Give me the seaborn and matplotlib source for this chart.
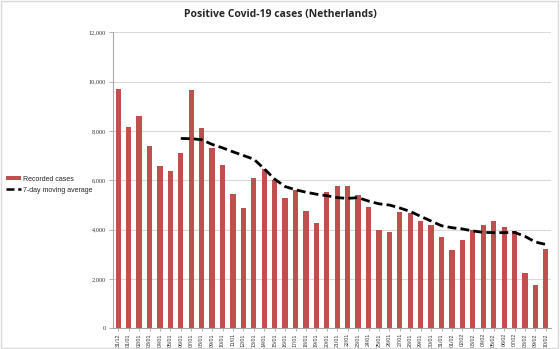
import numpy as np
import pandas as pd
import matplotlib
matplotlib.use("Agg")
import matplotlib.pyplot as plt
import seaborn as sns
from matplotlib.patches import Patch
from matplotlib.lines import Line2D

dates = ["31/12"] + [f"{d:02d}/01" for d in range(1, 32)] + [f"{d:02d}/02" for d in range(1, 11)]
cases = [9690, 8180, 8610, 7400, 6580, 6370, 7110, 9650, 8130, 7320,
         6620, 5430, 4890, 6090, 6450, 6030, 5280, 5620, 4760, 4280,
         5530, 5780, 5760, 5410, 4920, 4000, 3920, 4730, 4670, 4350,
         4180, 3720, 3190, 3570, 3970, 4200, 4340, 4090, 3930, 2240,
         1740, 3220]
moving_avg = [np.nan] * 6 + [7700, 7690, 7650, 7460, 7320, 7160, 7010, 6860,
              6470, 6050, 5750, 5620, 5520, 5440, 5380, 5300, 5270, 5300,
              5160, 5050, 5000, 4880, 4740, 4540, 4350, 4160, 4080, 4030,
              3950, 3890, 3880, 3880, 3890, 3730, 3500, 3400]
yticks = [0, 2000, 4000, 6000, 8000, 10000, 12000]

df = pd.DataFrame({"date": dates, "cases": cases, "ma": moving_avg})
df["pos"] = np.arange(len(df))

sns.set_theme(style="white")
plt.rcParams["font.family"] = ["Liberation Sans", "DejaVu Sans"]

fig = plt.figure(figsize=(5.6, 3.49), dpi=100)
ax = fig.add_axes([0.2018, 0.0593, 0.7822, 0.8477])

bar_color = "#C0504D"
sns.barplot(data=df, x="date", y="cases", color=bar_color, width=0.5,
            saturation=1, ax=ax, zorder=2, linewidth=0)
sns.lineplot(data=df, x="pos", y="ma", color="black", lw=2.0, ax=ax,
             dashes=False, zorder=3, linestyle=(0, (3.2, 1.5)))

ax.set_xlim(-0.5, len(dates) - 0.5)
ax.set_ylim(0, 12000)
ax.set_yticks(yticks)
ax.set_yticklabels([f"{v:,}" for v in yticks], fontsize=4.5, color="#333333",
                   family=["Liberation Serif", "DejaVu Serif"])
ax.set_xticks(df["pos"])
ax.set_xticklabels(dates, rotation=90, fontsize=3.8, color="#333333")
ax.set_xlabel("")
ax.set_ylabel("")
ax.yaxis.grid(True, color="#D9D9D9", lw=0.8, zorder=0)
ax.set_axisbelow(True)
for s in ["top", "right"]:
    ax.spines[s].set_visible(False)
for s in ["left", "bottom"]:
    ax.spines[s].set_color("#A6A6A6")
    ax.spines[s].set_linewidth(0.8)
ax.tick_params(axis="y", length=3, width=0.6, color="#A6A6A6", pad=2, left=True)
ax.tick_params(axis="x", length=2, width=0.6, color="#A6A6A6", pad=1.5, bottom=True)

fig.suptitle("Positive Covid-19 cases (Netherlands)", fontsize=7.5,
             fontweight="bold", x=0.5, y=0.975, family=["Open Sans", "DejaVu Sans"])

handles = [Patch(facecolor=bar_color, edgecolor="none", label="Recorded cases"),
           Line2D([0], [0], color="black", lw=1.8, linestyle=(0, (3.2, 1.5)),
                  label="7-day moving average")]
fig.legend(handles=handles, loc="upper left", bbox_to_anchor=(0.005, 0.505),
           frameon=False, fontsize=5.0, handlelength=2.2, handleheight=0.5,
           handletextpad=0.3, labelspacing=0.6, borderaxespad=0)

frame = plt.Rectangle((0.001, 0.003), 0.996, 0.994, transform=fig.transFigure,
                      fill=False, edgecolor="#D9D9D9", lw=1)
fig.patches.append(frame)

fig.savefig("out.png", dpi=100)
